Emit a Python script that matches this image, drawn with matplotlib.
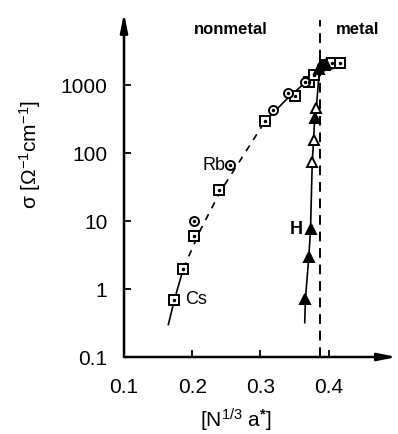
import matplotlib
matplotlib.use("Agg")
import matplotlib.pyplot as plt

plt.rcParams["font.family"] = ["Liberation Sans", "DejaVu Sans"]
plt.rcParams["mathtext.fontset"] = "custom"
plt.rcParams["mathtext.rm"] = "Liberation Sans"
plt.rcParams["mathtext.it"] = "Liberation Sans"
plt.rcParams["mathtext.bf"] = "Liberation Sans:bold"

# Cs (open squares with dot)
cs_x = [0.174, 0.187, 0.203, 0.240, 0.307, 0.350, 0.371, 0.379, 0.395, 0.405, 0.416]
cs_y = [0.7, 2.0, 6.0, 28.6, 295, 690, 1100, 1400, 2000, 2100, 2150]

# Rb (open circles with dot)
rb_x = [0.203, 0.256, 0.318, 0.341, 0.366, 0.390]
rb_y = [10, 66, 430, 760, 1100, 1900]

# H (triangles), filled and open
h_fill_x = [0.366, 0.371, 0.3735, 0.3795, 0.386, 0.391, 0.396]
h_fill_y = [0.71, 3.0, 7.6, 325, 1700, 1950, 2050]
h_open_x = [0.376, 0.378, 0.382]
h_open_y = [74, 155, 460]

# guide curves
curve_cs_x = [0.165, 0.174, 0.187, 0.212, 0.241, 0.271, 0.307, 0.337, 0.366, 0.388, 0.418]
curve_cs_y = [0.3, 0.7, 2.0, 7.4, 27, 80, 295, 600, 1100, 1660, 2170]
curve_h_x = [0.365, 0.366, 0.371, 0.3735, 0.376, 0.378, 0.3795, 0.382, 0.385, 0.388, 0.392]
curve_h_y = [0.32, 0.71, 3.0, 7.6, 74, 155, 325, 460, 1100, 1700, 2000]

x_ticks = [0.1, 0.2, 0.3, 0.4]
x_ticklabels = ["0.1", "0.2", "0.3", "0.4"]
y_ticks = [0.1, 1, 10, 100, 1000]
y_ticklabels = ["0.1", "1", "10", "100", "1000"]
x_mit = 0.387

fig = plt.figure(figsize=(3.98, 4.34), dpi=100)
ax = fig.add_axes([0.3116, 0.1774, 0.6854, 0.7926])
ax.set_yscale("log")
ax.set_xlim(0.1, 0.5)
ax.set_ylim(0.1, 11500)

for s in ax.spines.values():
    s.set_visible(False)
arrow = dict(arrowstyle="-|>,head_length=1.1,head_width=0.22", lw=1.8, color="black",
             shrinkA=0, shrinkB=0)
ax.annotate("", xy=(0, 1), xytext=(0, 0), xycoords="axes fraction", arrowprops=arrow)
ax.annotate("", xy=(1, 0), xytext=(0, 0), xycoords="axes fraction", arrowprops=arrow)

ax.set_xticks(x_ticks)
ax.set_xticklabels(x_ticklabels)
ax.set_yticks(y_ticks)
ax.set_yticklabels(y_ticklabels)
ax.minorticks_off()
ax.tick_params(direction="in", length=5, width=1.3, labelsize=15)
ax.tick_params(axis="x", pad=15)
ax.tick_params(axis="y", pad=12)

# dashed metal/nonmetal boundary
ax.axvline(x_mit, ymin=0, ymax=0.98, color="black", lw=1.4, ls=(0, (5, 3.5)))

# Cs/Rb curve: solid - dashed - solid
i1 = curve_cs_x.index(0.187)
i2 = curve_cs_x.index(0.307)
ax.plot(curve_cs_x[:i1 + 1], curve_cs_y[:i1 + 1], color="black", lw=1.2)
ax.plot(curve_cs_x[i1:i2 + 1], curve_cs_y[i1:i2 + 1], color="black", lw=1.2, ls=(0, (4, 4)))
ax.plot(curve_cs_x[i2:], curve_cs_y[i2:], color="black", lw=1.2)
ax.plot(curve_h_x, curve_h_y, color="black", lw=1.2)

mk = dict(ls="none", mec="black", mew=1.4, zorder=3)
ax.plot(cs_x, cs_y, marker="s", ms=6.5, mfc="white", **mk)
ax.plot(rb_x, rb_y, marker="o", ms=6.5, mfc="white", **mk)
ax.plot(cs_x + rb_x, cs_y + rb_y, marker="o", ms=1.5, mfc="black", ls="none",
        mec="black", zorder=4)
ax.plot(h_fill_x, h_fill_y, marker="^", ms=7, mfc="black", **mk)
ax.plot(h_open_x, h_open_y, marker="^", ms=7, mfc="white", **mk)

ax.text(cs_x[0] + 0.016, cs_y[0], "Cs", fontsize=13, va="center", ha="left")
ax.text(rb_x[1] - 0.007, rb_y[1], "Rb", fontsize=13, va="center", ha="right")
ax.text(h_fill_x[2] - 0.011, h_fill_y[2], "H", fontsize=13, va="center", ha="right",
        fontweight="bold")

ax.text(0.256, 6500, "nonmetal", fontsize=12, fontweight="bold", ha="center", va="center")
ax.text(0.443, 6500, "metal", fontsize=12, fontweight="bold", ha="center", va="center")

fig.text(236 / 398, 1 - 420 / 434, r"[N$^{1/3}$ a$^{\mathbf{*}}$]", fontsize=15,
         ha="center", va="center")
fig.text(30 / 398, 1 - 155 / 434, r"σ [Ω$^{-1}$cm$^{-1}$]", fontsize=15,
         ha="center", va="center", rotation=90)

fig.savefig("out.png", dpi=100)
